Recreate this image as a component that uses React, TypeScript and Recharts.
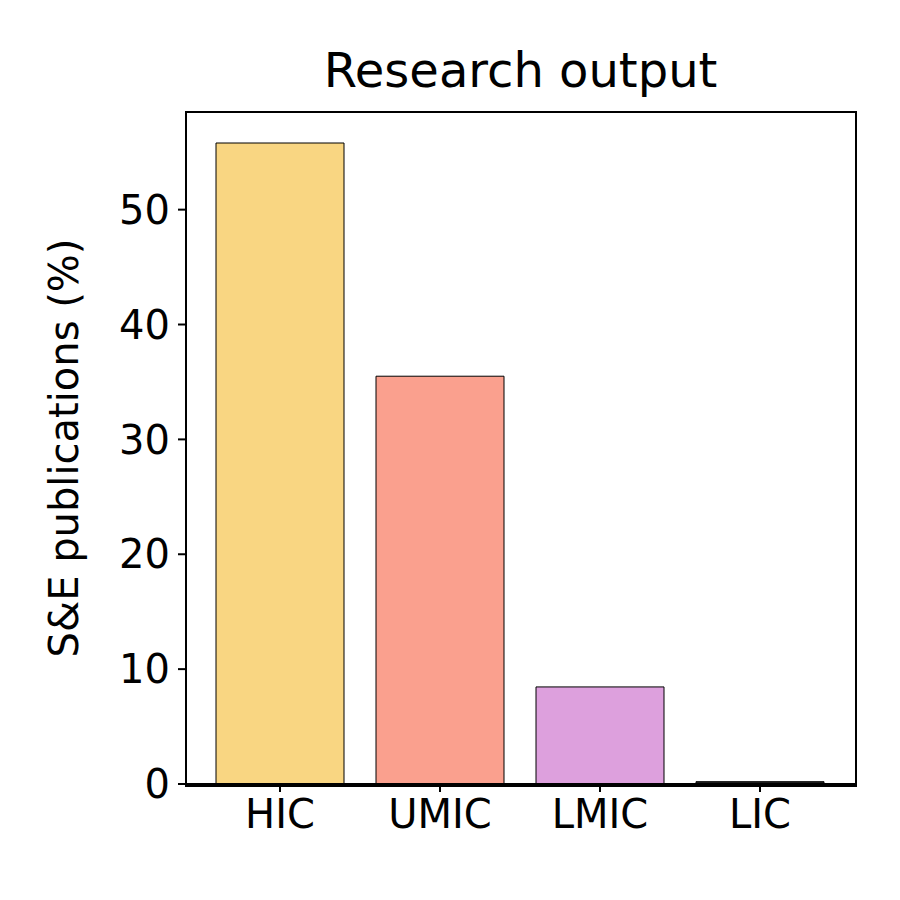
import React from 'react';
import { BarChart, Bar, XAxis, YAxis, Cell } from 'recharts';

const categories = ['HIC', 'UMIC', 'LMIC', 'LIC'];
const shares = [55.8, 35.5, 8.45, 0.2];
const colors = ['#F9D682', '#FAA08E', '#DDA0DD', '#222222'];
const yTicks = [0, 10, 20, 30, 40, 50];

const data = categories.map((name, i) => ({ name, value: shares[i] }));

const font = 'DejaVu Sans, sans-serif';
const tickStyle = { fill: '#000', fontSize: 40, fontFamily: font };

export default function App() {
  return (
    <div style={{ margin: -8, width: 900, height: 900, background: '#fff', position: 'relative' }}>
      <div
        style={{
          position: 'absolute', top: 40, left: 186, width: 669, textAlign: 'center',
          fontFamily: font, fontSize: 48, lineHeight: '60px', color: '#000',
        }}
      >
        Research output
      </div>
      <BarChart
        width={900}
        height={900}
        data={data}
        margin={{ top: 112, right: 45, left: 106, bottom: 56 }}
        barCategoryGap={0}
      >
        <XAxis
          dataKey="name"
          height={60}
          padding={{ left: 14, right: 15 }}
          tick={tickStyle}
          tickSize={8}
          tickMargin={8}
          stroke="#000"
          strokeWidth={2}
        />
        <YAxis
          width={80}
          domain={[0, 58.5]}
          ticks={yTicks}
          tick={tickStyle}
          tickSize={8}
          tickMargin={8}
          stroke="#000"
          strokeWidth={2}
          label={{
            value: 'S&E publications (%)', angle: -90, position: 'insideLeft', offset: -42,
            style: { fill: '#000', fontSize: 40, fontFamily: font, textAnchor: 'middle' },
          }}
        />
        <Bar dataKey="value" barSize={128} stroke="#000" strokeWidth={1} isAnimationActive={false}>
          {data.map((d, i) => (
            <Cell key={d.name} fill={colors[i]} />
          ))}
        </Bar>
      </BarChart>
      <div
        style={{
          position: 'absolute', top: 111, left: 185, width: 668, height: 672,
          border: '2px solid #000', pointerEvents: 'none',
        }}
      />
    </div>
  );
}
